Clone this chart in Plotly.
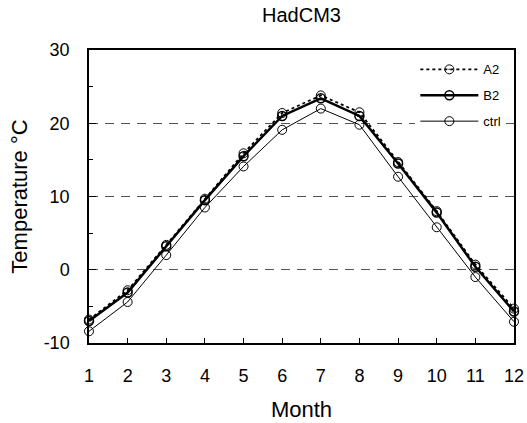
import plotly.graph_objects as go

months = [1, 2, 3, 4, 5, 6, 7, 8, 9, 10, 11, 12]
a2 = [-6.8, -2.8, 3.4, 9.7, 15.9, 21.4, 23.8, 21.5, 14.7, 8.0, 0.7, -5.3]
b2 = [-7.0, -3.1, 3.2, 9.5, 15.5, 21.0, 23.4, 21.0, 14.5, 7.8, 0.4, -5.7]
ctrl = [-8.4, -4.4, 2.0, 8.5, 14.1, 19.1, 22.0, 19.8, 12.7, 5.8, -1.0, -7.1]
y_ticks = [-10, 0, 10, 20, 30]

FONT = "Liberation Sans, Arial, sans-serif"

fig = go.Figure()
fig.add_trace(go.Scatter(
    x=months, y=ctrl, name="ctrl", mode="lines+markers", legendrank=3, legendgroup="c",
    line=dict(color="black", width=1),
    marker=dict(symbol="circle-open", size=9, color="black", line=dict(width=1)),
    cliponaxis=False))
fig.add_trace(go.Scatter(
    x=months, y=b2, name="B2", mode="lines+markers", legendrank=2, legendgroup="b",
    line=dict(color="black", width=2.5),
    marker=dict(symbol="circle-open", size=9, color="black", line=dict(width=1.5)),
    cliponaxis=False))
fig.add_trace(go.Scatter(
    x=months, y=a2, name="A2", mode="lines+markers", legendrank=1, legendgroup="a",
    line=dict(color="black", width=1.8, dash="dot"),
    marker=dict(symbol="circle-open-dot", size=9, color="black", line=dict(width=1)),
    cliponaxis=False))

fig.update_layout(
    width=527, height=423,
    margin=dict(l=89, r=13, t=50, b=80, autoexpand=False),
    paper_bgcolor="white", plot_bgcolor="white",
    font=dict(family=FONT, size=18, color="black"),
    title=dict(text="HadCM3", x=(89 + 514) / 2 / 527, xanchor="center", y=1 - 15 / 423, yanchor="middle",
               font=dict(size=20)),
    legend=dict(x=0.982, xanchor="right", y=0.985, yanchor="top",
                bgcolor="white", font=dict(size=13), itemwidth=58,
                tracegroupgap=6, traceorder="grouped"),
    xaxis=dict(range=[1, 12], tickmode="array", tickvals=months, ticktext=[str(m) for m in months],
               ticks="inside", ticklen=5, tickcolor="black", automargin=False,
               showline=True, linecolor="black", linewidth=1.5, mirror=True,
               showgrid=False, zeroline=False, ticklabelstandoff=16,
               title=dict(text="Month", standoff=16)),
    yaxis=dict(range=[-10, 30], tickmode="array", tickvals=y_ticks, ticktext=[str(v) for v in y_ticks],
               ticks="inside", ticklen=7, tickcolor="black", automargin=False,
               minor=dict(dtick=5, tick0=0, ticks="inside", ticklen=4, tickcolor="black", showgrid=False),
               showline=True, linecolor="black", linewidth=1.5, mirror=True,
               showgrid=True, gridcolor="#555555", griddash="9px,7px", gridwidth=1,
               zeroline=False, ticklabelstandoff=14,
               title=dict(text="Temperature °C", standoff=10)),
)
fig.write_html("out.html")
